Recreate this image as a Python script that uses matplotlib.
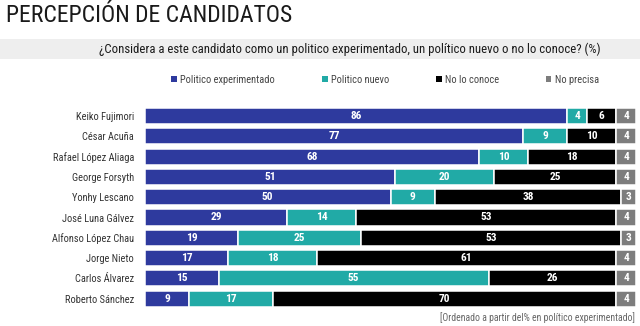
import matplotlib
matplotlib.use("Agg")
import matplotlib.pyplot as plt
from matplotlib import font_manager as fm
from matplotlib.patches import Rectangle, Patch

candidates = ["Keiko Fujimori", "César Acuña", "Rafael López Aliaga", "George Forsyth",
              "Yonhy Lescano", "José Luna Gálvez", "Alfonso López Chau", "Jorge Nieto",
              "Carlos Álvarez", "Roberto Sánchez"]
experimentado = [86, 77, 68, 51, 50, 29, 19, 17, 15, 9]
nuevo = [4, 9, 10, 20, 9, 14, 25, 18, 55, 17]
no_conoce = [6, 10, 18, 25, 38, 53, 53, 61, 26, 70]
no_precisa = [4, 4, 4, 4, 3, 4, 3, 4, 4, 4]
series_names = ["Politico experimentado", "Politico nuevo", "No lo conoce", "No precisa"]
colors = ["#2e3a9e", "#21aaa6", "#000000", "#7d7d7d"]

title = "PERCEPCIÓN DE CANDIDATOS"
subtitle = "¿Considera a este candidato como un politico experimentado, un político nuevo o no lo conoce? (%)"
footnote = "[Ordenado a partir del% en político experimentado]"

# pick a condensed font if available
names = {f.name for f in fm.fontManager.ttflist}
family = "Roboto"
for nm in ["Roboto Condensed", "Liberation Sans Narrow", "Open Sans Condensed"]:
    if nm in names:
        family = nm
        break
plt.rcParams["font.family"] = [family, "DejaVu Sans"]

W, H = 640, 326
fig = plt.figure(figsize=(W / 100, H / 100), dpi=100)

def fx(px):
    return px / W

def fy(py):
    return 1 - py / H

fig.text(fx(6), fy(22.5), title, fontsize=17, color="#1a1a1a", ha="left", va="baseline")
fig.patches.append(Rectangle((0, fy(59)), 1, (59 - 39) / H, transform=fig.transFigure,
                             facecolor="#eeeeee", edgecolor="none", zorder=0))
fig.text(fx(350), fy(49.5), subtitle, fontsize=9.2, color="#1a1a1a", ha="center", va="center")

handles = [Patch(facecolor=c, edgecolor="none") for c in colors]
fig.legend(handles, series_names, loc="center", bbox_to_anchor=(fx(385), fy(80)), ncol=4,
           frameon=False, fontsize=7.5, handlelength=0.55, handleheight=0.55,
           handletextpad=0.3, columnspacing=4.5, labelcolor="#444444")

ax = fig.add_axes([fx(145), fy(308.85), fx(636) - fx(145), (308.85 - 105.85) / H])
ypos = list(range(len(candidates)))
series = [experimentado, nuevo, no_conoce, no_precisa]
lefts = [0] * len(candidates)
for vals, col in zip(series, colors):
    ax.barh(ypos, vals, left=lefts, height=0.79, color=col, edgecolor="white", linewidth=1.1)
    for i, v in enumerate(vals):
        ax.text(lefts[i] + v / 2, ypos[i], str(v), ha="center", va="center",
                color="white", fontsize=8.2, fontweight="bold")
    lefts = [l + v for l, v in zip(lefts, vals)]

ax.set_xlim(0, 100)
ax.set_ylim(len(candidates) - 0.5, -0.5)
ax.set_yticks(ypos)
ax.set_yticklabels(candidates, fontsize=7.5, color="#333333")
ax.tick_params(axis="y", length=0, pad=8)
ax.set_xticks([])
for s in ax.spines.values():
    s.set_visible(False)

fig.text(fx(635), fy(318), footnote, fontsize=7.05, color="#666666", ha="right", va="center")

fig.savefig("out.png", dpi=100)
